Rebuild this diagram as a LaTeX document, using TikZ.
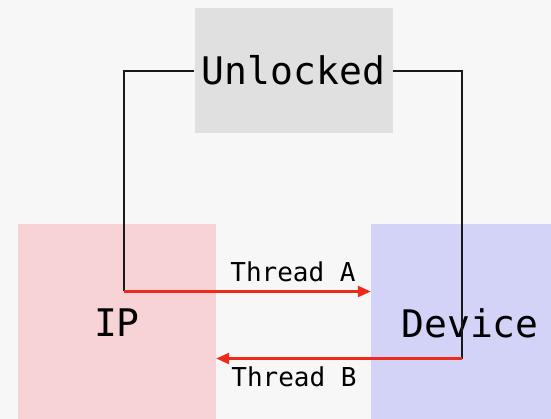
\documentclass[tikz,border=0pt]{standalone}
\usepackage{fontspec}
\newfontfamily\monofam{DejaVu Sans Mono}
\usetikzlibrary{arrows.meta}
\definecolor{bgc}{HTML}{F7F7F7}
\definecolor{unlc}{HTML}{E0E0E0}
\definecolor{ipc}{HTML}{F8D3D5}
\definecolor{devc}{HTML}{D3D3F8}
\definecolor{arrc}{HTML}{EE2A1A}
\tikzset{
  box/.style={rectangle, inner sep=0pt, minimum width=198pt, text=black,
    font=\monofam\fontsize{38}{38}\selectfont},
  wire/.style={draw=black!90, line width=1.1pt},
  thr/.style={draw=arrc, line width=2.4pt, -{Triangle[length=13pt,width=11pt]}},
  lbl/.style={font=\monofam\fontsize{26}{26}\selectfont, text=black, inner sep=0pt}
}
\begin{document}
\begin{tikzpicture}[x=1pt,y=-1pt]
\useasboundingbox (0,0) rectangle (551,419);
\fill[bgc] (0,0) rectangle (551,419);
\begin{scope}
\clip (0,0) rectangle (551,419);
\node[box, fill=unlc, minimum height=125pt] (unl) at (293.5,70.5) {Unlocked};
\node[box, fill=ipc, minimum height=198pt] (ip) at (117,323) {IP};
\node[box, fill=devc, minimum height=198pt] (dev) at (470,323) {Device};
\end{scope}
\coordinate (a1) at (124,291.5);
\coordinate (b1) at (462,358.5);
\draw[wire] (unl.west |- 0,71) -| (a1);
\draw[wire] (unl.east |- 0,71) -| (b1);
\draw[thr] (a1) -- (dev.west |- a1);
\draw[thr] (b1) -- (ip.east |- b1);
\node[lbl] (la) at (293,271.5) {Thread A};
\node[lbl] (lb) at (294,376.5) {Thread B};
\end{tikzpicture}
\end{document}
